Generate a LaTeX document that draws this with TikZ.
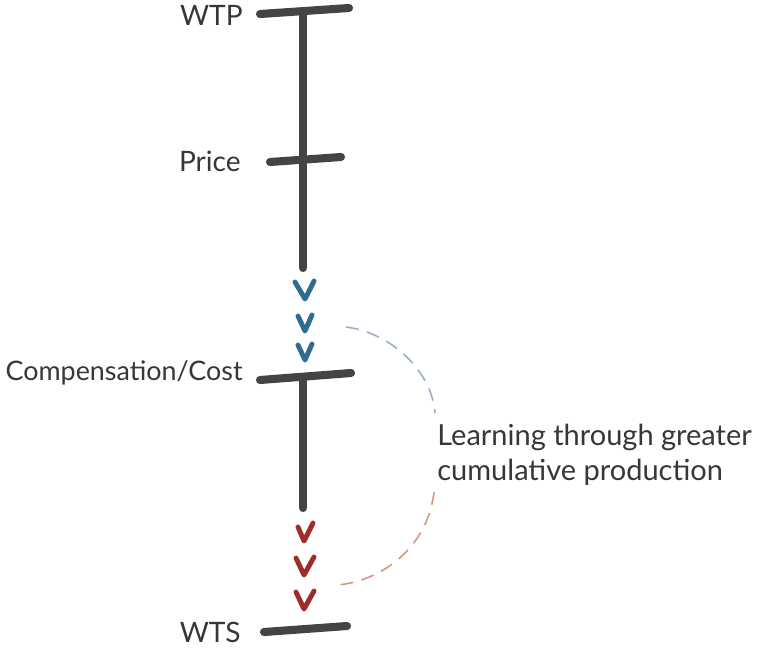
\documentclass[tikz,border=0pt]{standalone}
\usepackage{fontspec}
\setmainfont{Lato}
\usetikzlibrary{positioning}
\definecolor{axisgray}{RGB}{68,68,68}
\definecolor{textgray}{RGB}{55,55,55}
\definecolor{upblue}{RGB}{46,108,146}
\definecolor{downred}{RGB}{158,44,40}
\definecolor{arcblue}{RGB}{150,175,205}
\definecolor{arcred}{RGB}{215,150,130}
\tikzset{
  bar/.style={draw=axisgray, line width=4.6pt, line cap=round},
  lbl/.style={text=textgray, font=\fontsize{16}{19}\selectfont, inner sep=0pt},
  chev/.style={line width=2.8pt, line cap=round, line join=round},
  arcline/.style={line width=0.9pt, dash pattern=on 0.26cm off 0.17cm}
}

\begin{document}
\begin{tikzpicture}[x=0.02cm, y=-0.02cm]
  \useasboundingbox (0,0) rectangle (778,647);

  % labels
  \node[lbl, anchor=east] (wtp) at (243,15) {WTP};
  \node[lbl, anchor=east] (price) at (241,161) {Price};
  \node[lbl, anchor=east, font=\fontsize{15.3}{19}\selectfont] (cost) at (243,373) {Compensation/Cost};
  \node[lbl, anchor=east] (wts) at (241,632) {WTS};
  \node[lbl, anchor=north west, align=left, font=\fontsize{16.5}{20}\selectfont] (learn) at (437,424) {Learning through greater\\cumulative production};

  % bars
  \coordinate (wtpL) at (260,14);   \coordinate (wtpR) at (349,8);
  \coordinate (priceL) at (270,162); \coordinate (priceR) at (341,157);
  \coordinate (costL) at (260,380); \coordinate (costR) at (351,373);
  \coordinate (wtsL) at (264,632);  \coordinate (wtsR) at (347,626);
  \coordinate (topA) at (303,12);   \coordinate (topB) at (303,268);
  \coordinate (botA) at (303,377);  \coordinate (botB) at (303,508);

  \draw[bar] (wtpL) -- (wtpR);
  \draw[bar] (priceL) -- (priceR);
  \draw[bar] (costL) -- (costR);
  \draw[bar] (wtsL) -- (wtsR);
  \draw[bar] (topA) -- (topB);
  \draw[bar] (botA) -- (botB);

  % chevrons
  \draw[chev, upblue] (295,282) -- (305,299) -- (314,281);
  \foreach \y in {323,352}
    \draw[chev, upblue] (298,\y-7) -- (305,\y+8) -- (312,\y-8);
  \draw[chev, downred] (298,527) -- (304,541) -- (313,523);
  \foreach \y in {566,600}
    \draw[chev, downred] (296,\y-8) -- (304,\y+9) -- (314,\y-9);

  % learning arc
  \coordinate (arcA) at (346,327);
  \coordinate (arcB) at (435,413);
  \coordinate (arcC) at (434,492);
  \coordinate (arcD) at (338,585);
  \draw[arcline, arcblue] (arcA) .. controls (392,333) and (432,372) .. (arcB);
  \draw[arcline, arcred] (arcC) .. controls (428,545) and (385,580) .. (arcD);
\end{tikzpicture}
\end{document}
